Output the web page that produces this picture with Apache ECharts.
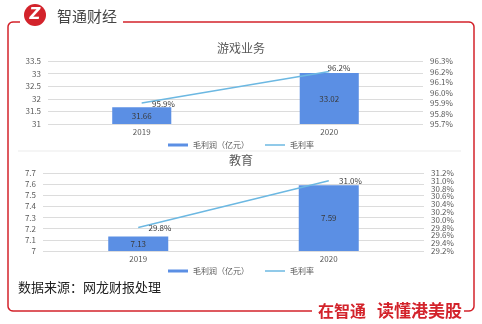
<!DOCTYPE html>
<html>
<head>
<meta charset="utf-8">
<script src="https://cdn.jsdelivr.net/npm/echarts@6/dist/echarts.min.js"></script>
<style>
  html, body { margin: 0; padding: 0; background: #fff; }
  #chart { width: 482px; height: 324px; }
</style>
</head>
<body>
<div id="chart"></div>
<script>
// Gross profit (100M CNY) and gross margin (%) by segment
const years = ['2019', '2020'];

const gameProfit = [31.66, 33.02];
const gameMargin = [95.9, 96.2];

const eduProfit = [7.13, 7.59];
const eduMargin = [29.8, 31.0];

const titles = ['游戏业务', '教育'];
const seriesNames = ['毛利润（亿元）', '毛利率'];
const sourceNote = '数据来源：网龙财报处理';

const FONT = '"Noto Sans CJK SC", "Microsoft YaHei", sans-serif';
const RED = '#D3232B';
const BAR = '#5B8FE4';
const LINE = '#6CB8E2';
const TXT = '#595959';

const chart = echarts.init(document.getElementById('chart'), null, { renderer: 'canvas' });

function xAxis(gridIndex) {
  return {
    type: 'category', gridIndex, data: years,
    axisLine: { show: false }, axisTick: { show: false },
    axisLabel: { color: TXT, fontSize: 8, margin: 4, fontFamily: FONT }
  };
}
function yAxis(gridIndex, min, max, interval, pos, pct) {
  return {
    type: 'value', gridIndex, min, max, interval, position: pos,
    axisLine: { show: false }, axisTick: { show: false },
    splitLine: { show: pos === 'left', lineStyle: { color: '#DCDCDC', width: 1 } },
    axisLabel: {
      color: TXT, fontSize: 8, margin: 7, fontFamily: FONT,
      formatter: pct ? (v) => v.toFixed(1) + '%' : (v) => String(+v.toFixed(2))
    }
  };
}
function barSeries(name, data, x, y) {
  return {
    name, type: 'bar', xAxisIndex: x, yAxisIndex: y, data, barWidth: '31.5%',
    itemStyle: { color: BAR },
    label: { show: true, position: 'inside', color: '#3A3A3A', fontSize: 8, fontFamily: FONT,
      formatter: (p) => p.value.toFixed(2) }
  };
}
function lineSeries(name, data, x, y, offsets) {
  return {
    name, type: 'line', xAxisIndex: x, yAxisIndex: y,
    symbol: 'circle', symbolSize: 0.5, showSymbol: true,
    lineStyle: { color: LINE, width: 1.5 }, itemStyle: { color: LINE },
    data: data.map((v, i) => ({ value: v, label: { offset: offsets[i] } })),
    label: { show: true, position: 'right', distance: 10, color: '#3A3A3A', fontSize: 8, fontFamily: FONT,
      formatter: (p) => p.value.toFixed(1) + '%' }
  };
}
function legend(top) {
  return {
    top, left: 'center', itemWidth: 20, itemHeight: 3, itemGap: 16,
    data: [
      { name: seriesNames[0], icon: 'rect' },
      { name: seriesNames[1], icon: 'path://M0,0H20V1.5H0Z' }
    ],
    textStyle: { color: TXT, fontSize: 8, fontFamily: FONT }
  };
}

// Rounded corner helper: quarter-circle points around (cx, cy)
function corner(cx, cy, r, a0, a1) {
  const pts = [];
  for (let i = 0; i <= 6; i++) {
    const a = a0 + (a1 - a0) * i / 6;
    pts.push([cx + r * Math.cos(a), cy + r * Math.sin(a)]);
  }
  return pts;
}
const R = 5, PI = Math.PI;
// Left / bottom part of the red frame
const frameLeft = [[20, 22]]
  .concat(corner(8 + R, 22 + R, R, -PI / 2, -PI))
  .concat(corner(8 + R, 311 - R, R, PI, PI / 2))
  .concat([[312, 311]]);
// Right / top part of the red frame
const frameRight = [[464, 311]]
  .concat(corner(474 - R, 311 - R, R, PI / 2, 0))
  .concat(corner(474 - R, 22 + R, R, 0, -PI / 2))
  .concat([[123, 22]]);

chart.setOption({
  backgroundColor: '#fff',
  animation: false,
  title: [
    { text: titles[0], left: 'center', top: 37, textStyle: { color: TXT, fontSize: 12, fontWeight: 'normal', fontFamily: FONT } },
    { text: titles[1], left: 'center', top: 149, textStyle: { color: TXT, fontSize: 12, fontWeight: 'normal', fontFamily: FONT } }
  ],
  legend: [legend(136), legend(262)],
  grid: [
    { left: 48, right: 59, top: 61, bottom: 200 },
    { left: 43, right: 58, top: 173, bottom: 73 }
  ],
  xAxis: [xAxis(0), xAxis(1)],
  yAxis: [
    yAxis(0, 31, 33.5, 0.5, 'left', false),
    yAxis(0, 95.7, 96.3, 0.1, 'right', true),
    yAxis(1, 7, 7.7, 0.1, 'left', false),
    yAxis(1, 29.2, 31.2, 0.2, 'right', true)
  ],
  series: [
    barSeries(seriesNames[0], gameProfit, 0, 0),
    lineSeries(seriesNames[1], gameMargin, 0, 1, [[0, 1], [-12, -4]]),
    barSeries(seriesNames[0], eduProfit, 1, 2),
    lineSeries(seriesNames[1], eduMargin, 1, 3, [[0, 0], [0, 0]])
  ],
  graphic: [
    { type: 'polyline', shape: { points: frameLeft }, style: { stroke: RED, lineWidth: 1.5, fill: null } },
    { type: 'polyline', shape: { points: frameRight }, style: { stroke: RED, lineWidth: 1.5, fill: null } },
    { type: 'line', shape: { x1: 18, y1: 151, x2: 461, y2: 151 }, style: { stroke: '#EBEBEB', lineWidth: 1 } },
    { type: 'circle', shape: { cx: 35, cy: 15, r: 11 }, style: { fill: RED } },
    { type: 'text', x: 35, y: 15, style: { text: 'Z', fill: '#fff', font: 'italic bold 15px "DejaVu Sans", sans-serif', align: 'center', verticalAlign: 'middle' } },
    { type: 'text', x: 57, y: 16, style: { text: '智通财经', fill: '#444', font: '15px ' + FONT, verticalAlign: 'middle' } },
    { type: 'text', x: 18, y: 287, style: { text: sourceNote, fill: '#222', font: '13px ' + FONT, verticalAlign: 'middle' } },
    { type: 'text', x: 318, y: 311, style: { text: '在智通', fill: RED, font: 'bold 16px ' + FONT, verticalAlign: 'middle' } },
    { type: 'text', x: 377, y: 311, style: { text: '读懂港美股', fill: RED, font: 'bold 17px ' + FONT, verticalAlign: 'middle' } }
  ]
});
</script>
</body>
</html>
